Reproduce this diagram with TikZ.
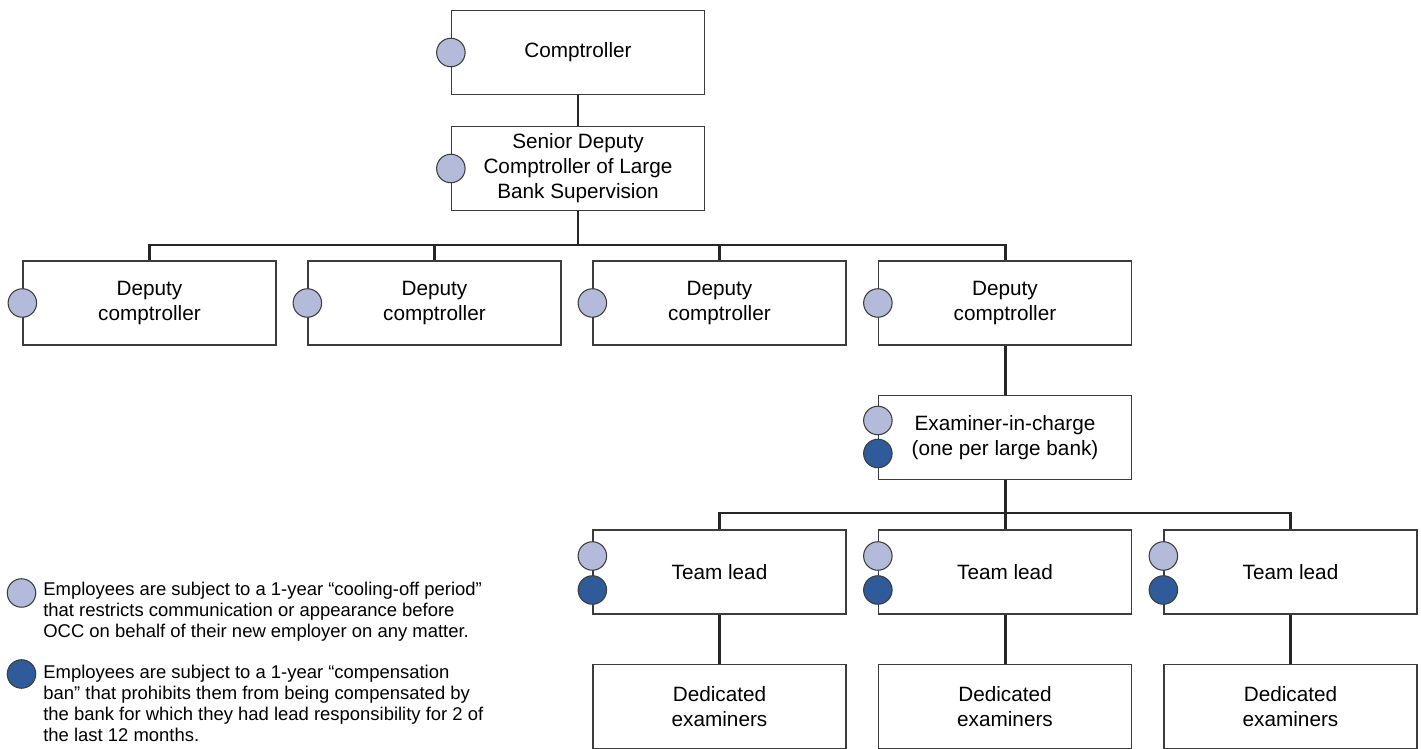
\documentclass[tikz,border=0pt]{standalone}
\usepackage{fontspec}
\setmainfont{Liberation Sans}
\usetikzlibrary{positioning,calc}
\definecolor{coolblue}{RGB}{180,186,218}
\definecolor{banblue}{RGB}{47,91,154}
\definecolor{edgegray}{RGB}{60,60,60}
\tikzstyle{post} = [rectangle, draw=edgegray, line width=0.75pt, fill=white,
minimum width=5.06cm, minimum height=1.68cm, inner sep=0pt, align=center,
font=\fontsize{11.8}{14.2}\selectfont]
\tikzstyle{cool} = [circle, draw=edgegray, line width=0.6pt, fill=coolblue,
minimum size=0.57cm, inner sep=0pt]
\tikzstyle{ban} = [cool, fill=banblue]
\tikzstyle{link} = [draw=black!85, line width=1.7pt]
\tikzstyle{note} = [anchor=north west, inner sep=0pt, align=left,
font=\fontsize{10.5}{11.9}\selectfont]

\begin{document}
\begin{tikzpicture}[x=0.02cm, y=-0.02cm]
            \useasboundingbox (0,0) rectangle (1421,749);
            \node[post] (comp) at (578,52.5) {Comptroller};
            \node[post] (sdc) at (578,168.5) {Senior Deputy\\Comptroller of Large\\Bank Supervision};
            \node[post] (dep1) at (149.5,303) {Deputy\\comptroller};
            \node[post] (dep2) at (434.5,303) {Deputy\\comptroller};
            \node[post] (dep3) at (719.5,303) {Deputy\\comptroller};
            \node[post] (dep4) at (1005,303) {Deputy\\comptroller};
            \node[post] (eic) at (1005,437.5) {Examiner-in-charge\\(one per large bank)};
            \node[post] (lead1) at (719.5,572) {Team lead};
            \node[post] (lead2) at (1005,572) {Team lead};
            \node[post] (lead3) at (1290.5,572) {Team lead};
            \node[post] (exam1) at (719.5,706.5) {Dedicated\\examiners};
            \node[post] (exam2) at (1005,706.5) {Dedicated\\examiners};
            \node[post] (exam3) at (1290.5,706.5) {Dedicated\\examiners};
            \coordinate (bus1) at (578,245);
            \coordinate (bus2) at (1005,513);
            \draw[link] (comp) -- (sdc);
            \draw[link] (sdc) -- (bus1);
            \draw[link] (dep1.north) |- (bus1) -| (dep4.north);
            \draw[link] (dep2.north) -- (dep2.north |- bus1);
            \draw[link] (dep3.north) -- (dep3.north |- bus1);
            \draw[link] (dep4) -- (eic);
            \draw[link] (eic) -- (bus2);
            \draw[link] (lead1.north) |- (bus2) -| (lead3.north);
            \draw[link] (lead2.north) -- (bus2);
            \draw[link] (lead1) -- (exam1);
            \draw[link] (lead2) -- (exam2);
            \draw[link] (lead3) -- (exam3);
            \node[cool] (compc) at (comp.west) {};
            \node[cool] (sdcc) at (sdc.west) {};
            \node[cool] (dep1c) at (dep1.west) {};
            \node[cool] (dep2c) at (dep2.west) {};
            \node[cool] (dep3c) at (dep3.west) {};
            \node[cool] (dep4c) at (dep4.west) {};
            \node[cool] (eicc) at ($(eic.west)+(0,-17)$) {};
            \node[ban] (eicb) at ($(eic.west)+(0,16)$) {};
            \node[cool] (lead1c) at ($(lead1.west)+(0,-16)$) {};
            \node[ban] (lead1b) at ($(lead1.west)+(0,18)$) {};
            \node[cool] (lead2c) at ($(lead2.west)+(0,-16)$) {};
            \node[ban] (lead2b) at ($(lead2.west)+(0,18)$) {};
            \node[cool] (lead3c) at ($(lead3.west)+(0,-16)$) {};
            \node[ban] (lead3b) at ($(lead3.west)+(0,18)$) {};
            \node[cool] (keycool) at (21.5,593) {};
            \node[ban] (keyban) at (21.5,674) {};
            \node[note] (coolnote) at (43,582) {Employees are subject to a 1-year “cooling-off period”\\that restricts communication or appearance before\\OCC on behalf of their new employer on any matter.};
            \node[note] (bannote) at (43,665) {Employees are subject to a 1-year “compensation\\ban” that prohibits them from being compensated by\\the bank for which they had lead responsibility for 2 of\\the last 12 months.};
        \end{tikzpicture}
\end{document}
